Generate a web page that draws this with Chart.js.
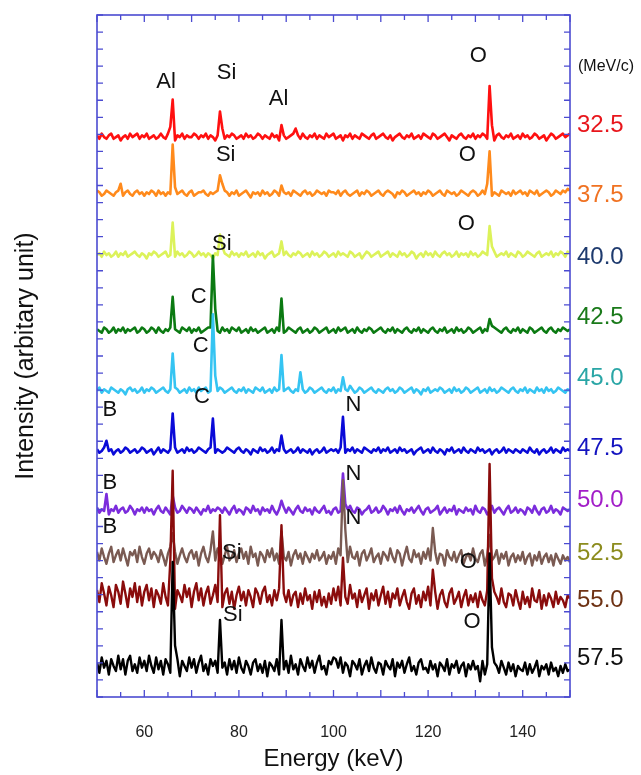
<!DOCTYPE html>
<html>
<head>
<meta charset="utf-8">
<script src="https://cdn.jsdelivr.net/npm/chart.js@4/dist/chart.umd.min.js"></script>
<style>
html,body{margin:0;padding:0;background:#fff;}
canvas{display:block;}
</style>
</head>
<body>
<canvas id="c" width="641" height="775"></canvas>
<script>
// ---------- DATA ----------
const energyStart = 50, energyEnd = 150, energyStep = 0.5;   // keV channels
const momenta = ["32.5","37.5","40.0","42.5","45.0","47.5","50.0","52.5","55.0","57.5"];
// vertical offset of each spectrum (arbitrary units)
const baselines = [32.84, 29.50, 25.92, 21.47, 17.95, 14.43, 10.91, 8.21, 5.87, 1.82];
const xTickValues = [60, 80, 100, 120, 140];

// noise of each spectrum, tenths of a unit, one row = 10 keV (0.5 keV channels)
const redNoise = [
 1,-1,2,0,-1,1,2,-1,0,1,-2,0,1,-1,2,0,1,2,-1,1,
 0,2,-1,0,1,-1,0,2,0,-1,2,0,1,-2,1,0,2,-1,1,0,
 0,2,1,-1,1,0,2,-1,1,0,-2,1,2,0,-1,1,0,2,1,-1,
 0,1,-1,2,0,1,-1,0,2,1,-1,1,0,-1,2,0,1,-2,0,1,
 -1,0,1,2,0,1,-1,2,0,-1,1,0,2,-1,1,0,-1,2,0,1,
 2,-1,0,1,-2,1,0,2,-1,1,0,-1,2,1,0,-1,1,2,-1,0,
 1,2,0,-1,1,-2,0,1,2,0,-1,1,0,2,-1,0,1,-1,2,1,
 0,-1,2,1,-1,0,1,2,0,-2,1,0,-1,1,2,0,-1,1,0,2,
 -1,1,0,2,1,-1,0,1,-2,1,2,0,-1,1,0,2,-1,0,1,-1,
 2,0,1,-1,0,2,1,-1,0,1,-2,0,2,1,-1,0,1,2,0,1,
 2];
const orangeNoise = [
 2,1,-1,0,2,1,0,-1,1,2,0,-1,1,2,0,-1,1,2,0,1,
 -1,1,0,2,1,-1,2,0,1,-1,1,0,2,-1,0,1,2,0,-1,1,
 2,-1,0,1,1,2,0,-1,1,0,1,2,-1,0,2,1,-1,1,0,2,
 -1,0,1,2,0,-2,1,0,1,-1,2,0,1,-1,0,2,1,-1,0,1,
 0,1,-1,2,1,0,-1,1,2,0,1,-1,0,2,1,0,1,-1,2,1,
 1,0,2,-1,1,2,0,-1,0,1,2,-1,1,0,2,1,-1,0,1,2,
 0,-1,1,2,1,0,-2,1,0,2,1,-1,0,1,2,0,1,-1,1,0,
 2,1,-1,0,1,2,0,-1,2,1,0,1,-1,0,2,1,0,-1,1,2,
 1,-1,0,2,0,1,2,-1,1,0,-1,2,1,0,1,-1,2,0,1,2,
 0,1,-1,2,1,0,2,-1,0,1,2,1,-1,0,2,1,0,2,1,3,
 2];
const yellowNoise = [
 0,1,-1,2,0,1,-1,0,2,-1,1,0,2,-1,0,1,2,0,-1,1,
 0,-2,1,0,2,1,-1,0,1,2,-1,0,1,-1,2,0,1,-1,0,2,
 1,-1,0,2,0,1,-1,1,0,-2,1,0,2,-1,1,0,-1,2,0,1,
 -1,1,0,2,-1,0,1,-1,2,0,1,-2,0,1,2,-1,0,1,-1,0,
 2,0,-1,1,0,2,1,-1,0,1,-1,2,0,1,-1,0,2,1,-1,0,
 1,-1,2,0,1,0,-1,2,1,-1,0,1,-2,0,2,1,-1,0,1,2,
 -1,0,1,2,-1,1,0,-1,2,0,1,-1,0,2,1,-2,0,1,-1,2,
 0,1,-1,2,0,-1,1,2,0,1,-1,0,2,-1,1,0,1,-1,2,0,
 1,-1,0,2,1,0,-1,1,2,-1,0,1,0,2,-1,1,0,-1,2,1,
 -1,0,2,1,0,-1,1,2,-1,0,1,0,2,-1,1,0,2,1,-1,2,
 1];
const greenNoise = [
 1,0,-1,2,1,-1,0,2,-1,1,0,2,-1,1,0,1,2,-1,0,2,
 1,-1,0,2,1,-1,2,0,-1,1,0,2,-1,1,0,-1,2,1,0,2,
 -1,1,0,2,-1,0,1,2,2,3,1,0,-1,2,0,1,-1,2,1,0,
 2,-1,0,1,-1,2,0,1,-1,0,1,2,-1,0,1,-1,2,0,1,-1,
 0,2,1,0,-1,1,2,-1,0,1,-1,0,2,1,-1,0,1,2,-1,0,
 1,-1,2,0,1,2,-1,0,1,-1,2,0,-1,1,0,2,1,-1,0,1,
 2,0,-1,1,0,2,-1,1,0,-1,1,2,0,-1,1,0,2,-1,1,0,
 -1,1,2,0,-1,1,0,2,-1,0,1,-1,2,0,1,-1,0,2,1,-1,
 0,1,2,-1,1,0,2,3,2,1,0,-1,1,2,0,-1,1,0,2,-1,
 1,0,-1,2,1,-1,0,1,2,0,-1,1,2,0,-1,1,0,2,1,0,
 1];
const cyanNoise = [
 0,2,-1,1,0,-1,2,1,0,-1,1,0,-2,1,2,0,1,-1,0,2,
 -1,1,0,2,1,-1,0,1,2,0,-1,1,0,2,1,-1,0,1,-1,2,
 0,1,-1,2,0,1,2,-1,0,1,-1,0,2,1,-1,0,1,2,0,-1,
 1,0,2,-1,1,0,-1,2,1,0,2,-1,0,1,-1,2,0,1,-2,0,
 1,2,0,-1,1,0,2,1,-1,0,2,1,-1,0,1,2,0,-1,1,0,
 2,-1,1,0,2,1,0,3,1,-1,0,2,1,-1,0,1,2,0,-1,1,
 0,-1,1,2,0,1,-1,0,2,1,-1,0,1,2,-1,1,0,-2,1,0,
 2,-1,0,1,0,2,1,-1,0,1,-1,2,0,1,-1,0,2,1,-1,0,
 1,2,-1,0,1,-1,2,0,1,-1,0,2,1,0,-1,1,2,0,-1,1,
 0,2,-1,1,0,-1,2,0,1,-1,2,0,1,-1,0,2,1,0,-1,1,
 0];
const blueNoise = [
 1,-1,0,2,-1,0,1,-2,0,1,-1,0,2,1,-1,0,1,-1,0,2,
 1,-1,0,1,-2,0,2,-1,1,0,-1,1,0,2,-1,0,1,-1,2,0,
 1,-1,0,2,1,0,-1,1,2,0,-1,1,0,-1,0,2,1,0,-1,1,
 2,0,-1,1,0,-2,1,0,-1,2,0,1,-1,0,2,-1,1,0,-2,1,
 -1,0,1,-1,0,2,-1,1,0,-1,1,-2,0,1,-1,0,2,-1,0,1,
 0,1,-1,2,0,-1,1,0,2,-1,1,0,-1,2,1,0,-1,1,0,2,
 -1,1,0,2,-1,0,1,-1,2,0,1,-1,0,1,-2,0,1,2,-1,0,
 1,-1,2,0,-1,1,0,-2,1,0,2,-1,0,1,-1,2,0,-1,1,0,
 -1,2,0,1,-1,0,1,-2,0,1,-1,0,2,-1,1,0,-1,1,0,-1,
 1,0,-1,2,0,-1,1,-2,0,1,-1,0,2,-1,1,0,-1,2,0,1,
 0];
const purpleNoise = [
 2,-1,1,0,2,-2,1,0,3,-1,1,2,-1,0,3,1,-2,1,0,2,
 -1,2,0,1,-2,1,3,0,-1,2,0,-2,1,2,-1,0,3,1,-1,2,
 1,-1,2,0,-2,1,0,3,-1,1,0,2,1,-1,2,0,-2,1,3,-1,
 1,0,-2,2,1,-1,3,0,1,-2,2,0,1,-1,3,0,-2,1,0,2,
 -1,2,0,-2,1,3,0,-1,2,0,1,-2,2,0,-1,1,3,-1,0,-2,
 1,2,-1,0,2,-2,1,3,0,-1,2,1,-2,0,1,3,-1,0,2,-1,
 0,3,1,-2,1,0,2,-1,3,0,-2,1,0,2,-1,1,3,0,-2,1,
 2,-1,0,1,3,-2,0,2,-1,1,0,3,-2,1,0,-1,2,0,1,-2,
 3,0,-1,2,1,-2,0,3,-1,1,2,0,-2,1,3,-1,0,2,-1,1,
 0,-2,2,1,-1,3,0,-2,1,2,-1,0,3,-1,1,0,-2,2,1,0,
 1];
const brownNoise = [
 3,-2,5,0,-4,2,6,-3,1,4,-2,5,0,-5,3,1,4,-3,6,0,
 -4,2,5,-1,3,1,-3,4,0,-5,2,6,-2,3,-4,1,5,0,-3,2,
 4,-1,3,-5,2,6,0,-3,4,1,-2,5,3,-4,1,6,-2,0,4,-3,
 2,5,-1,3,-4,6,0,2,-5,3,1,-3,4,0,5,-2,2,-4,3,0,
 -2,3,-5,1,4,-1,2,-4,3,0,-3,2,-1,4,-2,0,3,-4,1,-1,
 3,-4,5,1,-2,4,-3,6,0,-1,3,-5,2,4,-2,1,5,-3,0,2,
 -4,3,1,-2,5,0,-3,4,2,-5,1,6,-1,-3,4,0,2,-4,3,-1,
 5,-2,0,3,-4,2,1,-5,4,0,-2,3,-3,1,4,-4,0,2,-2,5,
 -1,-3,2,4,-5,1,3,-2,0,4,-4,2,-1,3,-5,0,2,-3,1,-2,
 3,-4,0,2,-5,1,-2,3,-4,0,2,-3,1,-5,2,-1,-4,1,-2,0,
 -3];
const darkRedNoise = [
 4,-3,8,2,-5,6,1,-6,7,3,-4,9,2,-6,5,0,8,-3,6,-5,
 3,7,-2,5,-6,4,1,-4,8,0,-5,6,2,-7,4,1,-3,7,0,5,
 -6,3,8,-2,5,-5,2,6,-4,1,7,-3,4,-6,2,5,-4,3,-7,1,
 6,-2,3,-5,4,0,-6,5,2,-4,3,6,-3,1,-5,4,-2,5,-6,2,
 -3,4,-5,1,3,-6,2,-4,5,-2,1,-7,3,-3,4,-5,0,-6,2,-4,
 5,-2,6,-5,3,0,-4,7,-1,2,-6,4,-3,1,5,-7,2,-2,4,-5,
 1,6,-4,3,-6,2,-1,5,-5,0,4,-3,-7,2,5,-4,1,-6,3,-2,
 6,-5,0,3,-7,1,4,-3,-6,2,5,-4,-1,3,-6,0,4,-5,1,-3,
 2,-6,3,-2,-5,4,1,-7,3,0,-4,5,-3,-6,2,1,-5,4,-2,-7,
 3,-4,0,-6,5,-2,-3,4,-7,1,-5,2,-1,-6,3,-4,0,-2,-6,1,
 -1];
const blackNoise = [
 2,-4,5,-1,3,-5,4,0,-3,6,-2,4,-5,3,6,-3,1,-4,5,-1,
 3,-3,6,0,-4,5,-2,3,-5,4,1,-4,5,-2,4,-6,3,0,-3,5,
 -1,4,-4,2,6,-3,1,-5,4,0,3,-4,6,-1,2,-5,4,-2,3,-4,
 5,-1,-4,3,0,-5,2,4,-3,1,-4,3,-6,2,0,-3,4,-5,1,-2,
 3,-4,6,-2,1,-5,4,0,-3,5,-1,3,-4,2,6,-2,0,-5,3,1,
 -3,4,-1,5,-4,2,0,-6,3,1,-2,4,-5,0,3,-3,5,-1,-4,2,
 1,-5,3,0,-2,4,-6,2,-1,3,-4,1,5,-3,0,-5,2,4,-2,-1,
 -4,3,-2,1,-6,2,0,-3,4,-5,1,-1,3,-4,0,2,-6,1,-2,3,
 -2,0,-9,3,-5,1,0,-3,2,0,-4,3,-1,-5,2,-3,1,-6,0,-2,
 -3,2,-5,1,-4,-1,3,-6,0,-2,1,-5,2,-3,-1,-6,0,-4,1,-3,
 -2];

// peaks [energy keV, height in tenths]
const redPeaks = [[66,21],[65.5,6],[76,13],[76.5,5],[89,7],[92,5],[133,30],[133.5,6]];
const orangePeaks = [[55,6],[66,27],[66.5,5],[76,12],[76.5,6],[89,5],[133,23],[132.5,5]];
const yellowPeaks = [[66,18],[76,10],[76.5,6],[89,9],[133,18],[133.5,4]];
const greenPeaks = [[66,21],[74.5,41],[75,12],[89,18],[133,5]];
const cyanPeaks = [[66,22],[74.5,44],[75,10],[89,23],[93,9],[102,6]];
const bluePeaks = [[52,7],[66,22],[74.5,19],[89,11],[102,20]];
const purplePeaks = [[52,8],[66,8],[89,6],[102,20],[102.5,6]];
const brownPeaks = [[66,16],[74.5,14],[89,12],[102,47],[102.5,12],[121,17],[133,10]];
const darkRedPeaks = [[66,72],[65.5,15],[76,44],[89,48],[102,20],[121,16],[133,77],[133.5,18]];
const blackPeaks = [[66,56],[66.5,14],[76,21],[89,26],[100,8],[133,66],[133.5,14]];

// element labels [text, energy, intensity]
const elementLabels = [
  ["Al",64.6,36.07],["Si",77.4,36.6],["Al",88.4,35.07],["O",130.6,37.6],
  ["Si",77.2,31.79],["O",128.3,31.79],
  ["Si",76.4,26.57],["O",128.1,27.74],
  ["C",71.5,23.46],
  ["C",71.9,20.59],
  ["C",72.2,17.6],["B",52.7,16.83],["N",104.2,17.13],
  ["B",52.7,12.55],["N",104.2,13.08],
  ["B",52.7,9.97],["N",104.2,10.5],
  ["Si",78.5,8.45],["O",128.5,7.92],
  ["Si",78.7,4.81],["O",129.3,4.4]
];
// right-side momentum labels at intensity positions
const momentumLabelY = [33.55, 29.44, 25.81, 22.29, 18.71, 14.6, 11.55, 8.45, 5.69, 2.29];
const unitLabel = "(MeV/c)", unitLabelY = 36.95;

// ---------- STYLE ----------
const lineColors = ["#ff1010","#ff8a1c","#dcf25a","#0b7a12","#35c4f2","#0a0ad8","#7b2cdc","#7a5a52","#8a0c0c","#000000"];
const lineWidths = [2.6,2.6,2.6,2.6,2.6,2.6,2.6,2.4,2.4,2.4];
const labelColors = ["#e8161c","#f07222","#1e3a6e","#1a7a1a","#2aa6a6","#1414c0","#a21ec8","#8c8c1e","#6e3214","#111111"];
const frameColor = "#4b4bd1";
const FONT = "'Liberation Sans', Arial, Helvetica, sans-serif";

const noises = [redNoise,orangeNoise,yellowNoise,greenNoise,cyanNoise,blueNoise,purpleNoise,brownNoise,darkRedNoise,blackNoise];
const peaks = [redPeaks,orangePeaks,yellowPeaks,greenPeaks,cyanPeaks,bluePeaks,purplePeaks,brownPeaks,darkRedPeaks,blackPeaks];

const datasets = noises.map((noise, s) => {
  const data = noise.map((n, i) => {
    const e = energyStart + i * energyStep;
    let h = n;
    peaks[s].forEach(p => { if (p[0] === e) h += p[1]; });
    return {x: e, y: baselines[s] + h / 10};
  });
  return {
    label: momenta[s], data,
    borderColor: lineColors[s], backgroundColor: lineColors[s],
    borderWidth: lineWidths[s], pointRadius: 0, tension: 0, fill: false,
    borderJoinStyle: 'round', order: noises.length - s
  };
});

const decor = {
  id: 'decor',
  afterDatasetsDraw(chart) {
    const {ctx, chartArea: {left, right, top, bottom}, scales: {x, y}} = chart;
    ctx.save();
    ctx.strokeStyle = frameColor;
    ctx.lineWidth = 1.6;
    ctx.strokeRect(left, top, right - left, bottom - top);
    ctx.lineWidth = 1.3;
    ctx.beginPath();
    for (let v = energyStart; v <= energyEnd; v += 5) {
      const px = x.getPixelForValue(v);
      const len = v % 10 === 0 ? 7 : 5;
      ctx.moveTo(px, bottom); ctx.lineTo(px, bottom - len);
      ctx.moveTo(px, top); ctx.lineTo(px, top + len);
    }
    for (let v = 0; v <= 40; v++) {
      const py = y.getPixelForValue(v);
      ctx.moveTo(left, py); ctx.lineTo(left + 6, py);
      ctx.moveTo(right, py); ctx.lineTo(right - 6, py);
    }
    ctx.stroke();
    ctx.fillStyle = "#111";
    ctx.font = "22px " + FONT;
    ctx.textAlign = "center";
    ctx.textBaseline = "middle";
    elementLabels.forEach(l => ctx.fillText(l[0], x.getPixelForValue(l[1]), y.getPixelForValue(l[2])));
    ctx.textAlign = "left";
    ctx.font = "24px " + FONT;
    momenta.forEach((m, i) => {
      ctx.fillStyle = labelColors[i];
      ctx.fillText(m, right + 7, y.getPixelForValue(momentumLabelY[i]));
    });
    ctx.fillStyle = "#111";
    ctx.font = "16px " + FONT;
    ctx.fillText(unitLabel, right + 8, y.getPixelForValue(unitLabelY));
    ctx.restore();
  }
};

new Chart(document.getElementById('c'), {
  type: 'line',
  data: {datasets},
  options: {
    responsive: false, animation: false,
    layout: {padding: {top: 15, right: 71, left: 0, bottom: 0}},
    plugins: {legend: {display: false}, tooltip: {enabled: false}},
    scales: {
      x: {
        type: 'linear', min: energyStart, max: energyEnd,
        grid: {display: false, drawTicks: false}, border: {display: false},
        afterBuildTicks: s => { s.ticks = xTickValues.map(v => ({value: v})); },
        ticks: {color: "#222", font: {size: 16, family: FONT}, padding: 26, maxRotation: 0},
        title: {display: true, text: "Energy (keV)", color: "#111", font: {size: 24, family: FONT}, padding: {top: 0, bottom: 1}},
        afterFit: s => { s.height = 78; }
      },
      y: {
        type: 'linear', min: 0, max: 40,
        grid: {display: false, drawTicks: false}, border: {display: false},
        ticks: {display: false},
        title: {display: true, text: "Intensity (arbitary unit)", color: "#111", font: {size: 25, family: FONT}, padding: {top: 11, bottom: 0}},
        afterFit: s => { s.width = 97; }
      }
    }
  },
  plugins: [decor]
});
</script>
</body>
</html>
